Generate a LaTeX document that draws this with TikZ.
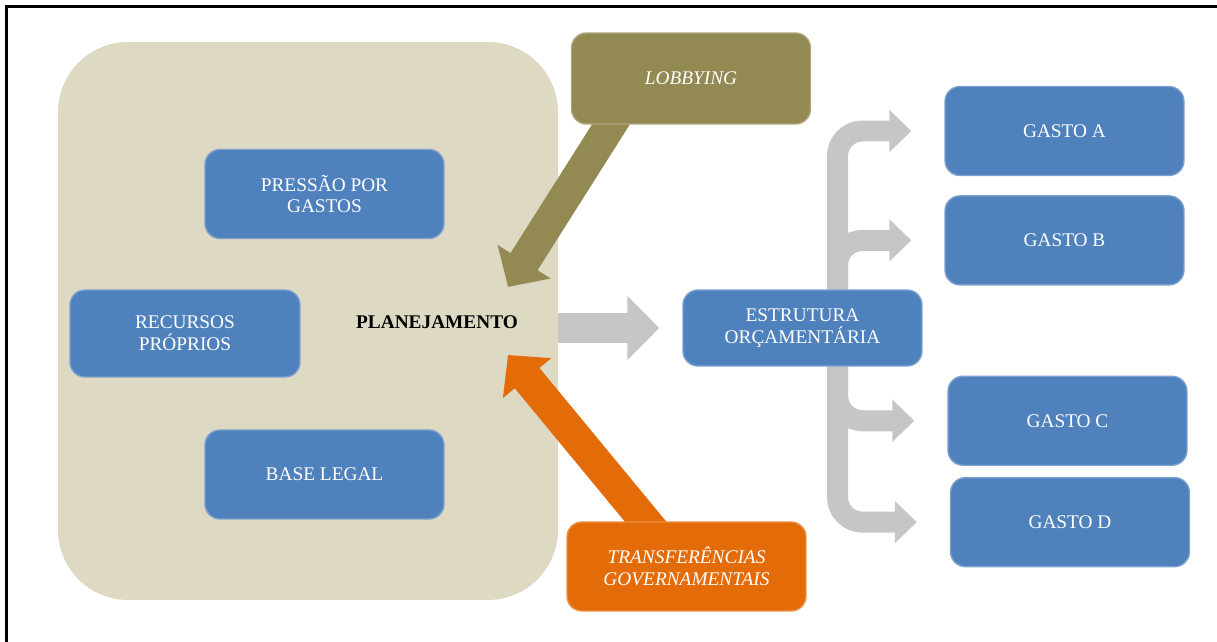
\documentclass[tikz,border=0pt]{standalone}
\usepackage{fontspec}
\setmainfont{Liberation Serif}
\usetikzlibrary{arrows.meta, positioning}

\definecolor{boxblue}{HTML}{4F81BD}
\definecolor{planbeige}{HTML}{DDD9C3}
\definecolor{lobolive}{HTML}{938953}
\definecolor{transorange}{HTML}{E36C09}
\definecolor{arrowgray}{HTML}{C6C6C6}

\pgfdeclarelayer{back}
\pgfdeclarelayer{mid}
\pgfsetlayers{back,mid,main}

\begin{document}
\begin{tikzpicture}[
  x=0.02cm, y=-0.02cm,
  box/.style={draw, rounded corners=0.3cm, minimum width=4.78cm, minimum height=1.78cm, align=center, text=white, line width=0.8pt, font=\fontsize{11}{12.5}\selectfont},
  bluebox/.style={box, fill=boxblue, draw=boxblue!75!white},
  lobbox/.style={box, fill=lobolive, draw=lobolive!75!white, font=\fontsize{11}{12.5}\selectfont\itshape},
  transbox/.style={box, fill=transorange, draw=transorange!75!white, font=\fontsize{11}{12.5}\selectfont\itshape},
  planbox/.style={fill=planbeige, rounded corners=1.4cm, minimum width=10cm, minimum height=11.16cm},
  blockarrow/.style={line width=0.64cm, -{Triangle[length=0.6cm, width=1.22cm]}},
  busarrow/.style={arrowgray, line width=0.42cm, rounded corners=0.5cm, -{Triangle[length=0.44cm, width=0.82cm]}, shorten >=0.66cm},
]
\useasboundingbox (0,0) rectangle (1217,642);
\draw[line width=1.4pt] (6.5,642) -- (6.5,6.5) -- (1217,6.5);

% planning block
\begin{pgfonlayer}{back}
\node[planbox] (plan) at (308,321) {};
\end{pgfonlayer}
\node[bluebox] (press) at (324.5,194) {PRESSÃO POR\\GASTOS};
\node[bluebox, minimum width=4.6cm, minimum height=1.74cm] (recur) at (185,333.5) {RECURSOS\\PRÓPRIOS};
\node[bluebox] (base) at (324.5,474.5) {BASE LEGAL};
\node[font=\fontsize{11}{12.5}\selectfont\bfseries] (planlabel) at (437,322) {PLANEJAMENTO};

% outside influences
\node[lobbox, minimum height=1.82cm] (lob) at (691,78.5) {LOBBYING};
\node[transbox] (trans) at (686.5,566.5) {TRANSFERÊNCIAS\\GOVERNAMENTAIS};
\coordinate (lobtip) at (508,287);
\coordinate (transtip) at (508,355);

% budget and expenses
\node[bluebox, minimum height=1.52cm] (est) at (802.5,328) {ESTRUTURA\\ORÇAMENTÁRIA};
\node[bluebox] (gA) at (1064.5,131) {GASTO A};
\node[bluebox, below=0.38cm of gA] (gB) {GASTO B};
\node[bluebox, below=1.8cm of gB, xshift=0.06cm] (gC) {GASTO C};
\node[bluebox, below=0.22cm of gC, xshift=0.05cm] (gD) {GASTO D};

\begin{pgfonlayer}{mid}
\draw[blockarrow, lobolive] ([shift={(-70,30)}]lob.center) -- (lobtip);
\draw[blockarrow, transorange] ([shift={(-27,-28)}]trans.center) -- (transtip);
\draw[blockarrow, arrowgray, line width=0.62cm, -{Triangle[length=0.64cm, width=1.24cm]}, shorten >=0.46cm] (plan.east |- est.west) -- (est.west);
\foreach \g in {gA,gB,gC,gD}
  \draw[busarrow] ([xshift=0.7cm]est.center) |- (\g.west);
\end{pgfonlayer}
\end{tikzpicture}
\end{document}
